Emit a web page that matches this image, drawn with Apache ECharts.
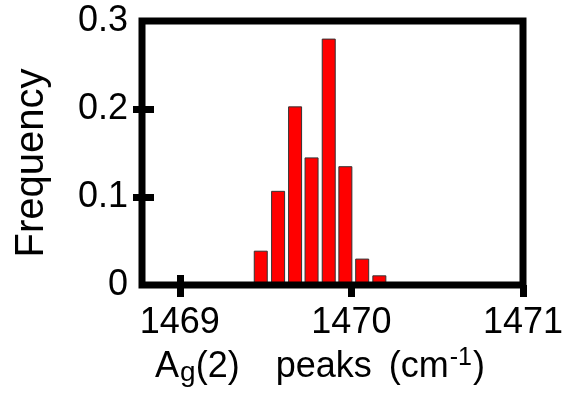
<!DOCTYPE html>
<html>
<head>
<meta charset="utf-8">
<script src="https://cdn.jsdelivr.net/npm/echarts@6/dist/echarts.min.js"></script>
<style>html,body{margin:0;padding:0;background:#fff}#c{width:578px;height:394px}</style>
</head>
<body>
<div id="c"></div>
<script>
// Data
const binCenters = [1469.472, 1469.573, 1469.672, 1469.768, 1469.868, 1469.965, 1470.063, 1470.163];
const frequencies = [0.039, 0.107, 0.203, 0.145, 0.280, 0.135, 0.030, 0.011];
const xTickValues = [1469, 1470, 1471];
const xCrossTickValues = [1469];
const yLabelValues = [0, 0.1, 0.2, 0.3];
const yTickValues = [0.1, 0.2];

const FONT = 'Liberation Sans, Arial, sans-serif';
const tickLine = { color: '#000', width: 7, cap: 'butt' };

const chart = echarts.init(document.getElementById('c'), null, { renderer: 'canvas' });
chart.setOption({
  animation: false,
  backgroundColor: '#fff',
  grid: {
    left: 142, right: 55, top: 21, bottom: 109,
    show: true, z: 10, borderColor: '#000', borderWidth: 7, backgroundColor: 'transparent'
  },
  xAxis: [{
    type: 'value', min: 1468.78, max: 1471, position: 'bottom', z: 10,
    axisLine: { show: false }, splitLine: { show: false },
    axisTick: { show: true, inside: false, length: 12, customValues: xTickValues, lineStyle: tickLine },
    axisLabel: { customValues: xTickValues, formatter: v => String(v), fontSize: 36, fontFamily: FONT, color: '#000', margin: 20 },
    name: '{a|A}{g|g}{a|(2)}{p|peaks}{q|(cm}{s|-1}{a|)}',
    nameLocation: 'middle', nameGap: 61,
    nameTextStyle: {
      padding: [0, 25, 0, 0],
      rich: {
        a: { fontSize: 36, fontFamily: FONT, color: '#000', lineHeight: 40 },
        p: { fontSize: 36, fontFamily: FONT, color: '#000', lineHeight: 40, padding: [0, 0, 0, 36] },
        q: { fontSize: 36, fontFamily: FONT, color: '#000', lineHeight: 40, padding: [0, 0, 0, 17] },
        g: { fontSize: 28, fontFamily: FONT, color: '#000', lineHeight: 28, padding: [13, 0, 0, 1] },
        s: { fontSize: 25, fontFamily: FONT, color: '#000', lineHeight: 25, padding: [0, 1, 17, 1] }
      }
    }
  }, {
    type: 'value', min: 1468.78, max: 1471, position: 'bottom', z: 10,
    axisLine: { show: false }, splitLine: { show: false }, axisLabel: { show: false },
    axisTick: { show: true, inside: true, length: 10, customValues: xCrossTickValues, lineStyle: tickLine }
  }],
  yAxis: [{
    type: 'value', min: 0, max: 0.3, interval: 0.1, position: 'left', z: 10,
    axisLine: { show: false }, splitLine: { show: false },
    axisTick: { show: true, inside: false, length: 9, customValues: yTickValues, lineStyle: tickLine },
    axisLabel: { customValues: yLabelValues, formatter: v => String(v), fontSize: 36, fontFamily: FONT, color: '#000', margin: 14 },
    name: 'Frequency', nameLocation: 'middle', nameGap: 90,
    nameTextStyle: { fontSize: 40, fontFamily: FONT, color: '#000', padding: [0, 20, 0, 0] }
  }, {
    type: 'value', min: 0, max: 0.3, interval: 0.1, position: 'left', z: 10,
    axisLine: { show: false }, splitLine: { show: false }, axisLabel: { show: false },
    axisTick: { show: true, inside: true, length: 12, customValues: yTickValues, lineStyle: tickLine }
  }],
  series: [{
    type: 'bar', xAxisIndex: 0, yAxisIndex: 0, barWidth: 14,
    data: binCenters.map((x, i) => [x, frequencies[i]]),
    itemStyle: { color: '#ff0000', borderColor: '#333', borderWidth: 1 }
  }]
});
</script>
</body>
</html>
